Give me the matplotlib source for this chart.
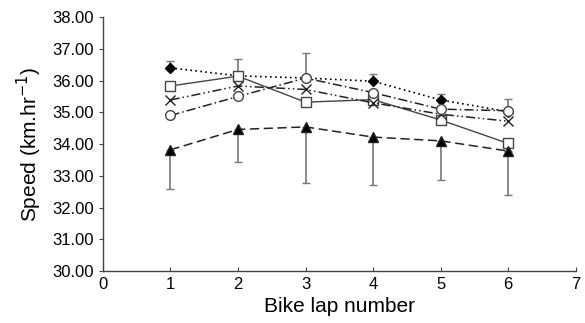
import matplotlib
matplotlib.use("Agg")
import matplotlib.pyplot as plt

plt.rcParams['font.family'] = ['Liberation Sans', 'DejaVu Sans']

laps = [1, 2, 3, 4, 5, 6]

diamond = [36.40, 36.15, 36.08, 35.98, 35.39, 35.02]
square = [35.83, 36.14, 35.32, 35.40, 34.76, 34.02]
cross = [35.39, 35.83, 35.72, 35.30, 34.94, 34.72]
circle = [34.90, 35.50, 36.08, 35.62, 35.10, 35.05]
triangle = [33.82, 34.46, 34.54, 34.22, 34.10, 33.78]

# error bars (upper for diamond, lower for triangle)
diamond_err = [0.22, 0.52, 0.80, 0.24, 0.18, 0.40]
triangle_err = [1.24, 1.02, 1.76, 1.50, 1.22, 1.40]

fig, ax = plt.subplots(figsize=(5.85, 3.23), dpi=100)
fig.subplots_adjust(left=0.176, right=0.984, bottom=0.161, top=0.947)

ecol = '#777777'
ax.errorbar(laps, diamond, yerr=[[0] * 6, diamond_err], fmt='none',
            ecolor=ecol, elinewidth=1.2, capsize=3, zorder=1)
ax.errorbar(laps, triangle, yerr=[triangle_err, [0] * 6], fmt='none',
            ecolor=ecol, elinewidth=1.2, capsize=3, zorder=1)

ax.plot(laps, diamond, color='black', linestyle=(0, (1, 2)), lw=1.2,
        marker='D', markersize=5, markerfacecolor='black', zorder=3)
ax.plot(laps, square, color='#444444', linestyle='-', lw=1.0,
        marker='s', markersize=7, markerfacecolor='white',
        markeredgecolor='#444444', zorder=3)
ax.plot(laps, cross, color='#222222', linestyle=(0, (6, 2, 1, 2, 1, 2)), lw=1.1,
        marker='x', markersize=7, markeredgewidth=1.0, zorder=3)
ax.plot(laps, circle, color='#222222', linestyle=(0, (6, 2, 1, 2)), lw=1.1,
        marker='o', markersize=7, markerfacecolor='white',
        markeredgecolor='#444444', zorder=3)
ax.plot(laps, triangle, color='#222222', linestyle=(0, (6, 3)), lw=1.1,
        marker='^', markersize=7, markerfacecolor='black', zorder=3)

ax.set_xlim(0, 7)
ax.set_ylim(30, 38)
ax.set_xticks(range(0, 8))
ax.set_yticks(range(30, 39))
ax.set_yticklabels([f"{v:.2f}" for v in range(30, 39)])
ax.tick_params(axis='both', labelsize=12, color='#444444', length=3)
ax.tick_params(axis='x', direction='in', pad=4)

for s in ['top', 'right']:
    ax.spines[s].set_visible(False)
for s in ['left', 'bottom']:
    ax.spines[s].set_color('#444444')
    ax.spines[s].set_linewidth(1.0)

ax.set_xlabel('Bike lap number', fontsize=15, labelpad=4)
ax.set_ylabel('Speed (km.hr$^{-1}$)', fontsize=15, labelpad=6)

fig.savefig('out.png', dpi=100)
